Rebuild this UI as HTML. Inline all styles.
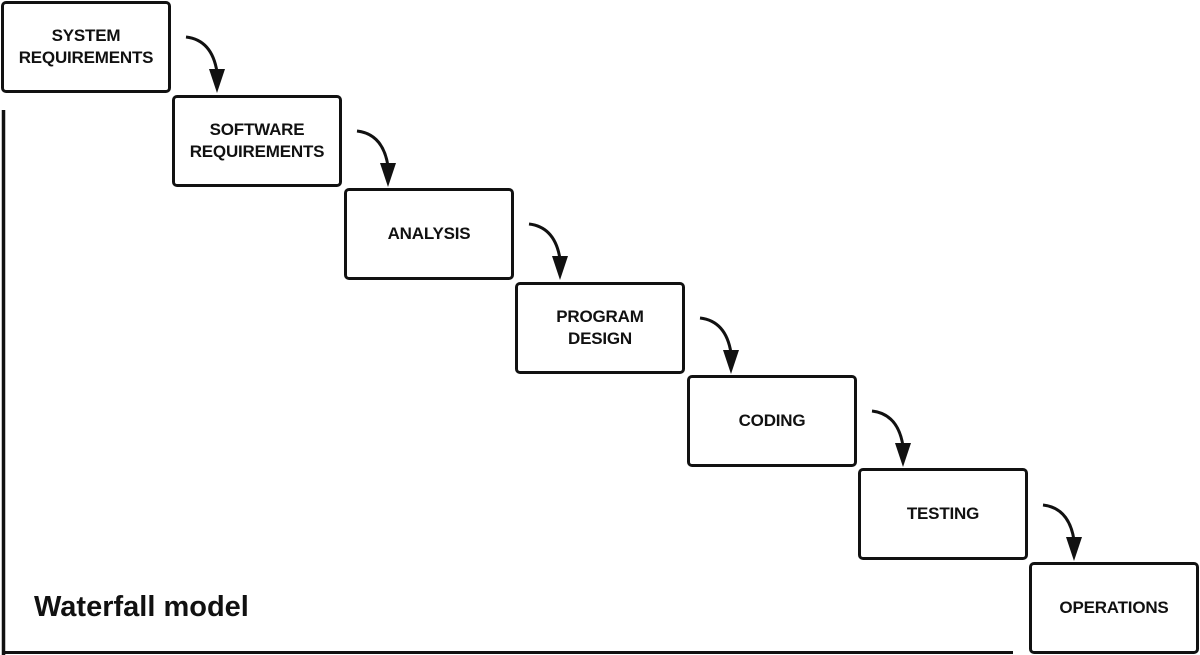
<!DOCTYPE html>
<html><head><meta charset="utf-8"><style>
body{margin:0;width:1200px;height:655px;background:#fff;position:relative;overflow:hidden;font-family:"Liberation Sans",Arial,sans-serif}
.b{position:absolute;width:164px;height:86px;border:3px solid #111;border-radius:5px;background:#fff;display:flex;align-items:center;justify-content:center;text-align:center;font-weight:bold;font-size:17px;line-height:22px;color:#111;letter-spacing:-0.2px}
svg{position:absolute;left:0;top:0}
.t{position:absolute;left:34px;top:591px;font-size:29px;font-weight:bold;color:#111}
</style></head><body>
<svg width="1200" height="655">
<line x1="3.5" y1="110" x2="3.5" y2="655" stroke="#111" stroke-width="3.5"/>
<line x1="2" y1="652.5" x2="1013" y2="652.5" stroke="#111" stroke-width="3"/>
<g fill="none" stroke="#111" stroke-width="3">
<path d="M186 37 Q212 40 217 72"/>
<path d="M357 131 Q383 134 388 166"/>
<path d="M529 224 Q555 227 560 259"/>
<path d="M700 318 Q726 321 731 353"/>
<path d="M872 411 Q898 414 903 446"/>
<path d="M1043 505 Q1069 508 1074 540"/>
</g>
<g fill="#111">
<polygon points="209,69 225,69 217,93"/>
<polygon points="380,163 396,163 388,187"/>
<polygon points="552,256 568,256 560,280"/>
<polygon points="723,350 739,350 731,374"/>
<polygon points="895,443 911,443 903,467"/>
<polygon points="1066,537 1082,537 1074,561"/>
</g>
</svg>
<div class="b" style="left:1px;top:1px">SYSTEM<br>REQUIREMENTS</div>
<div class="b" style="left:172px;top:95px">SOFTWARE<br>REQUIREMENTS</div>
<div class="b" style="left:344px;top:188px">ANALYSIS</div>
<div class="b" style="left:515px;top:282px">PROGRAM<br>DESIGN</div>
<div class="b" style="left:687px;top:375px">CODING</div>
<div class="b" style="left:858px;top:468px">TESTING</div>
<div class="b" style="left:1029px;top:562px">OPERATIONS</div>
<div class="t">Waterfall model</div>
</body></html>
